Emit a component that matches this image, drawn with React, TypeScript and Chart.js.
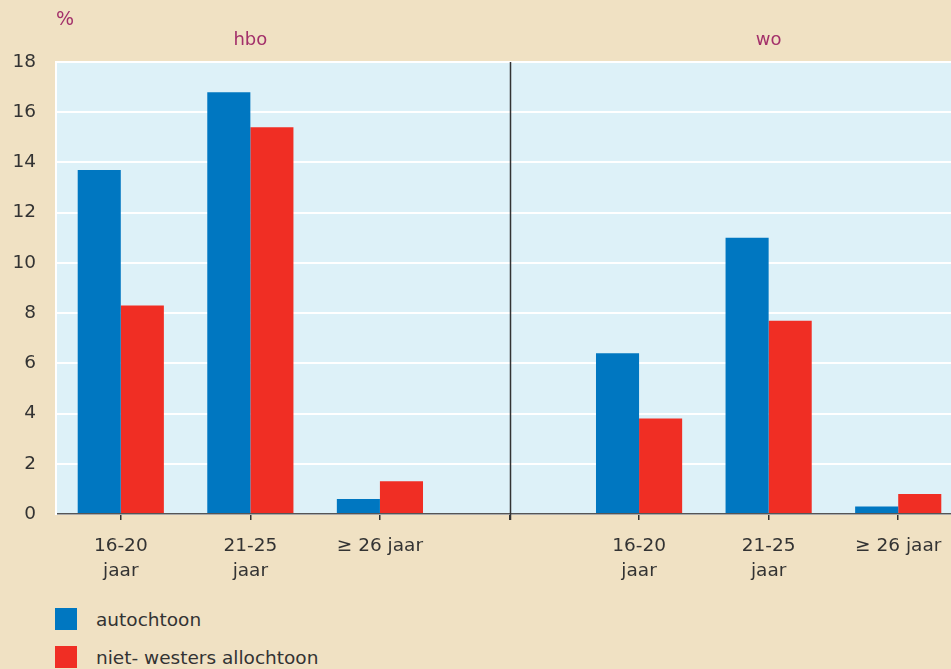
import React, { useEffect, useRef } from "react";
import { Chart, registerables } from "chart.js";

Chart.register(...registerables);

const categories: (string | string[])[] = [
  ["16-20", "jaar"],
  ["21-25", "jaar"],
  "≥ 26 jaar",
  "",
  ["16-20", "jaar"],
  ["21-25", "jaar"],
  "≥ 26 jaar",
];
const groupLabels = ["hbo", "wo"];
const groupCenterIndex = [1, 5];
const dividerIndex = 3;
const seriesNames = ["autochtoon", "niet- westers allochtoon"];
const autochtoon = [13.7, 16.8, 0.6, null, 6.4, 11.0, 0.3];
const nietWesters = [8.3, 15.4, 1.3, null, 3.8, 7.7, 0.8];
const yMin = 0;
const yMax = 18;
const yStep = 2;
const unitLabel = "%";

const BG = "#f0e1c3";
const PLOT_BG = "#ddf1f8";
const BLUE = "#0077c1";
const RED = "#f02e24";
const TEXT = "#333333";
const ACCENT = "#a3306a";
const FONT = "'DejaVu Sans', sans-serif";
const colors = [BLUE, RED];

export default function App() {
  const ref = useRef<HTMLCanvasElement | null>(null);
  useEffect(() => {
    if (!ref.current) return;
    const decor = {
      id: "decor",
      beforeDraw(chart: any) {
        const { ctx, chartArea: a } = chart;
        ctx.save();
        ctx.fillStyle = BG;
        ctx.fillRect(0, 0, chart.width, chart.height);
        ctx.fillStyle = PLOT_BG;
        ctx.fillRect(a.left, a.top, a.right - a.left, a.bottom - a.top);
        ctx.restore();
      },
      afterDatasetsDraw(chart: any) {
        const { ctx, chartArea: a } = chart;
        const xs = chart.scales.x;
        ctx.save();
        const dx = Math.round(xs.getPixelForValue(dividerIndex)) + 0.5;
        ctx.strokeStyle = "#333";
        ctx.lineWidth = 1.5;
        ctx.beginPath();
        ctx.moveTo(dx, a.top);
        ctx.lineTo(dx, a.bottom + 6);
        ctx.stroke();
        ctx.fillStyle = ACCENT;
        ctx.textBaseline = "middle";
        ctx.textAlign = "left";
        ctx.font = `19px ${FONT}`;
        ctx.fillText(unitLabel, 56, 20);
        ctx.font = `18px ${FONT}`;
        ctx.textAlign = "center";
        groupLabels.forEach((g, i) => {
          ctx.fillText(g, xs.getPixelForValue(groupCenterIndex[i]), 40);
        });
        ctx.restore();
      },
    };
    const chart = new Chart(ref.current, {
      type: "bar",
      data: {
        labels: categories,
        datasets: [
          { label: seriesNames[0], data: autochtoon, backgroundColor: BLUE },
          { label: seriesNames[1], data: nietWesters, backgroundColor: RED },
        ],
      },
      options: {
        responsive: false,
        animation: false,
        devicePixelRatio: 1,
        layout: { padding: { top: 62, right: 0, left: 0, bottom: 0 } },
        datasets: { bar: { barPercentage: 1, categoryPercentage: 0.665 } },
        plugins: { legend: { display: false }, tooltip: { enabled: false } },
        scales: {
          x: {
            afterFit(s: any) {
              s.height = 86;
            },
            grid: {
              offset: false,
              drawOnChartArea: false,
              drawTicks: true,
              tickLength: 6,
              color: "#333",
              lineWidth: 1.5,
            },
            border: { color: "#555", width: 1.5 },
            ticks: {
              color: TEXT,
              padding: 14,
              maxRotation: 0,
              autoSkip: false,
              font: { family: FONT, size: 18.5, lineHeight: 1.35 },
            },
          },
          y: {
            min: yMin,
            max: yMax,
            afterFit(s: any) {
              s.width = 56;
            },
            grid: { color: "#ffffff", lineWidth: 2, drawTicks: false },
            border: { color: "#ffffff", width: 2 },
            ticks: {
              stepSize: yStep,
              color: TEXT,
              padding: 20,
              font: { family: FONT, size: 18.5 },
            },
          },
        },
      },
      plugins: [decor],
    });
    return () => chart.destroy();
  }, []);

  return (
    <div
      style={{
        position: "absolute",
        left: 0,
        top: 0,
        width: 951,
        height: 669,
        overflow: "hidden",
        background: BG,
        fontFamily: FONT,
      }}
    >
      <canvas ref={ref} width={963} height={600} style={{ position: "absolute", left: 0, top: 0 }} />
      {seriesNames.map((n, i) => (
        <div
          key={n}
          style={{ position: "absolute", left: 55, top: 608 + i * 38, height: 22, display: "flex", alignItems: "center" }}
        >
          <div style={{ width: 22, height: 22, background: colors[i] }} />
          <div style={{ marginLeft: 19, fontSize: 18.5, color: TEXT, whiteSpace: "nowrap" }}>{n}</div>
        </div>
      ))}
    </div>
  );
}
